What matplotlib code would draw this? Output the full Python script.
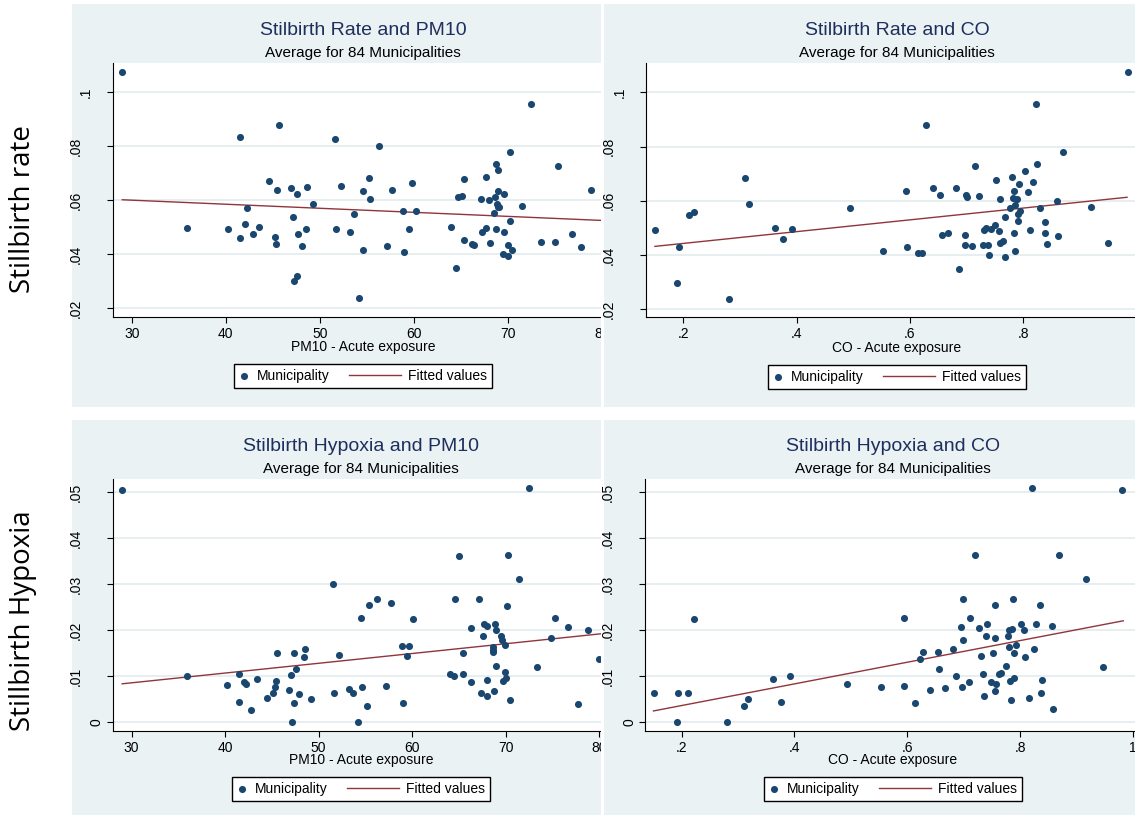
import numpy as np
import matplotlib
matplotlib.use('Agg')
import matplotlib.pyplot as plt
from matplotlib.lines import Line2D
from matplotlib.patches import Rectangle
from matplotlib.legend_handler import HandlerLine2D

############### DONNEES ###############

# Haut gauche : PM10 / taux de mortinatalite
tl_pm10 = [29.0, 41.5, 45.7, 51.6, 35.9, 40.2, 41.5, 42.1, 42.3, 42.9, 43.5, 44.6, 45.2, 45.4,
           45.5, 46.9, 47.2, 47.3, 47.6, 47.6, 47.7, 48.1, 48.5, 48.7, 49.3, 51.7, 52.3, 53.2,
           53.7, 54.2, 54.6, 54.6, 55.2, 55.4, 56.3, 57.2, 57.7, 58.9, 59.0, 59.5, 59.8, 60.2,
           64.0, 64.5, 64.7, 65.1, 65.4, 65.4, 66.2, 66.4, 67.2, 67.3, 67.7, 67.7, 68.0, 68.1,
           68.7, 68.6, 68.8, 69.0, 68.9, 69.0, 69.1, 68.5, 69.0, 69.6, 69.6, 69.5, 70.0, 70.0,
           70.2, 70.2, 70.5, 71.5, 72.5, 73.5, 75.0, 75.4, 76.8, 77.8, 78.9]
tl_rate = [.1074, .0833, .0879, .0828, .0499, .0493, .0459, .0514, .0573, .0474, .0500, .0672, .0464, .0440,
           .0640, .0646, .0540, .0300, .0321, .0625, .0477, .0431, .0495, .0648, .0588, .0495, .0652, .0483,
           .0551, .0240, .0636, .0415, .0684, .0606, .0801, .0432, .0637, .0562, .0410, .0495, .0663, .0559,
           .0502, .0351, .0614, .0617, .0678, .0454, .0437, .0434, .0605, .0484, .0688, .0496, .0600, .0442,
           .0735, .0611, .0493, .0711, .0585, .0575, .0577, .0553, .0635, .0623, .0483, .0401, .0435, .0394,
           .0525, .0779, .0415, .0579, .0956, .0447, .0447, .0727, .0474, .0426, .0637]

# Haut droite : CO / taux de mortinatalite
tr_co = [.150, .192, .189, .210, .219, .281, .309, .316, .362, .376, .392, .494, .553,
         .595, .593, .614, .621, .628, .641, .653, .656, .667, .682, .686, .697, .697, .699, .700,
         .710, .714, .721, .730, .734, .729, .737, .740, .743, .750, .752, .757, .758, .758, .764,
         .767, .767, .777, .780, .783, .781, .784, .785, .788, .786, .791, .790, .793, .795, .803,
         .808, .811, .817, .822, .825, .829, .838, .838, .842, .859, .862, .870, .920, .950, .984]
tr_rate = [.0494, .0430, .0298, .0549, .0559, .0238, .0684, .0589, .0499, .0459, .0497, .0574, .0414,
           .0430, .0635, .0407, .0409, .0879, .0646, .0623, .0475, .0481, .0647, .0348, .0473, .0437, .0623, .0614,
           .0433, .0727, .0616, .0494, .0501, .0438, .0438, .0399, .0497, .0512, .0676, .0489, .0605, .0445, .0452,
           .0539, .0393, .0575, .0686, .0636, .0609, .0483, .0414, .0605, .0583, .0551, .0525, .0662, .0561, .0709,
           .0632, .0494, .0670, .0956, .0735, .0572, .0522, .0483, .0442, .0598, .0472, .0779, .0577, .0445, .1075]

# Bas gauche : PM10 / hypoxie
bl_pm10 = [29.0, 35.9, 40.2, 41.5, 41.5, 42.0, 42.2, 42.8, 43.4, 44.5, 45.1, 45.3, 45.4, 45.6,
           46.8, 47.0, 47.2, 47.4, 47.4, 47.6, 47.9, 48.4, 48.6, 49.2, 51.5, 51.6, 52.2, 53.2,
           53.7, 54.2, 54.5, 54.6, 55.2, 55.4, 56.25, 57.2, 57.7, 58.9, 59.0, 59.5, 59.7, 60.1,
           64.0, 64.5, 64.6, 65.0, 65.4, 65.4, 66.25, 66.3, 67.2, 67.4, 67.7, 67.6, 68.0, 68.0,
           68.0, 68.6, 68.7, 68.7, 68.8, 68.9, 69.0, 69.0, 69.5, 69.6, 69.7, 69.9, 69.9, 70.0,
           70.1, 70.2, 70.5, 71.4, 72.5, 73.4, 74.9, 75.3, 76.7, 77.7, 78.8, 80.0]
bl_hyp = [.0504, .0100, .0080, .0104, .0043, .0087, .0083, .0027, .0093, .0052, .0063, .0075, .0090, .0151,
          .0070, .0103, .0000, .0151, .0041, .0116, .0061, .0141, .0158, .0049, .0301, .0063, .0145, .0072,
          .0062, .0000, .0225, .0075, .0034, .0255, .0267, .0078, .0259, .0166, .0041, .0143, .0166, .0224,
          .0104, .0100, .0267, .0361, .0151, .0104, .0086, .0204, .0267, .0064, .0213, .0187, .0209, .0092,
          .0057, .0152, .0157, .0162, .0067, .0214, .0200, .0122, .0188, .0179, .0089, .0167, .0108, .0096,
          .0253, .0364, .0047, .0311, .0509, .0120, .0182, .0227, .0206, .0040, .0201, .0137]

# Bas droite : CO / hypoxie
br_co = [.151, .191, .193, .212, .221, .281, .310, .317, .362, .376, .392, .493, .553,
         .595, .594, .614, .622, .628, .641, .654, .656, .667, .682, .686, .696, .697, .698, .699,
         .709, .712, .721, .728, .730, .734, .737, .739, .742, .749, .752, .755, .757, .756, .756,
         .762, .766, .776, .779, .780, .781, .782, .784, .785, .788, .789, .790, .793, .802, .807,
         .809, .816, .821, .824, .828, .836, .837, .839, .857, .859, .869, .917, .948, .981]
br_hyp = [.0064, .0000, .0062, .0063, .0224, .0000, .0035, .0049, .0093, .0044, .0100, .0083, .0076,
          .0079, .0225, .0042, .0138, .0152, .0070, .0152, .0116, .0073, .0159, .0100, .0207, .0076, .0178, .0267,
          .0086, .0227, .0362, .0205, .0143, .0105, .0057, .0188, .0213, .0088, .0151, .0067, .0082, .0182, .0255,
          .0104, .0107, .0122, .0187, .0162, .0201, .0090, .0048, .0203, .0267, .0096, .0151, .0167, .0214, .0199,
          .0142, .0052, .0509, .0159, .0212, .0254, .0064, .0092, .0209, .0028, .0364, .0311, .0120, .0504]

# Valeurs ajustees (extremites de la droite de regression)
fit_pm10 = [29.0, 80.3]
fit_rate_pm10 = [0.0602, 0.0525]
fit_hyp_pm10 = [0.0083, 0.0192]
fit_co = [0.150, 0.983]
fit_rate_co = [0.0432, 0.0613]
fit_hyp_co = [0.0024, 0.0220]

pm10_ticks = [30, 40, 50, 60, 70, 80]
co_ticks_top = [0.2, 0.4, 0.6, 0.8]
co_ticks = [0.2, 0.4, 0.6, 0.8, 1.0]
rate_ticks = [0.02, 0.04, 0.06, 0.08, 0.1]
hyp_ticks = [0, 0.01, 0.02, 0.03, 0.04, 0.05]

############### STYLE ###############

W, H = 1143, 817
NAVY = '#1a476f'
MAROON = '#90353b'
BG = '#eaf2f3'
GRID = '#e0eaec'
TITLE = '#1e2f5e'

plt.rcParams['font.family'] = ['Liberation Sans', 'DejaVu Sans']

fig = plt.figure(figsize=(W / 100, H / 100), dpi=100)
fig.patch.set_facecolor('white')


def box(l, t, r, b):
    # rectangle en pixels (origine en haut a gauche) -> coordonnees figure
    return [l / W, 1 - b / H, (r - l) / W, (b - t) / H]


def fmt(v):
    # format Stata : .02, .1, 0, 1
    if abs(v) < 1e-12:
        return '0'
    s = '%g' % v
    return s[1:] if s.startswith('0.') else s


class LongLine(HandlerLine2D):
    # ligne de legende plus longue que la case du symbole
    def create_artists(self, legend, orig_handle, xdescent, ydescent, width, height, fontsize, trans):
        extra = 3.0 * fontsize
        return super().create_artists(legend, orig_handle, xdescent + extra, ydescent,
                                      width + extra, height, fontsize, trans)


############### PANNEAUX ###############

panels = [
    dict(bg=(72, 4, 601, 407), ax=(112.7, 63.3, 613.3, 316.7), z=1,
         x=tl_pm10, y=tl_rate, fx=fit_pm10, fy=fit_rate_pm10,
         xlim=(27.98, 81.23), ylim=(0.01689, 0.11074), xt=pm10_ticks, yt=rate_ticks,
         title='Stilbirth Rate and PM10', xlabel='PM10 - Acute exposure',
         cx=363, ty=30.7, sy=52.7, xy=347, ly=376),
    dict(bg=(72, 420, 601, 815), ax=(112.7, 479, 609.3, 731), z=1,
         x=bl_pm10, y=bl_hyp, fx=fit_pm10, fy=fit_hyp_pm10,
         xlim=(27.99, 81.08), ylim=(-0.00196, 0.05283), xt=pm10_ticks, yt=hyp_ticks,
         title='Stilbirth Hypoxia and PM10', xlabel='PM10 - Acute exposure',
         cx=361, ty=446, sy=468.7, xy=760, ly=789),
    dict(bg=(604, 4, 1135, 407), ax=(646, 63.3, 1148, 317.3), z=4,
         x=tr_co, y=tr_rate, fx=fit_co, fy=fit_rate_co,
         xlim=(0.1342, 1.020), ylim=(0.01705, 0.11069), xt=co_ticks_top, yt=rate_ticks,
         title='Stilbirth Rate and CO', xlabel='CO - Acute exposure',
         cx=897, ty=30.7, sy=52.7, xy=348, ly=377),
    dict(bg=(604, 420, 1135, 815), ax=(645.3, 479, 1140.7, 731), z=4,
         x=br_co, y=br_hyp, fx=fit_co, fy=fit_hyp_co,
         xlim=(0.1355, 1.014), ylim=(-0.00196, 0.05283), xt=co_ticks, yt=hyp_ticks,
         title='Stilbirth Hypoxia and CO', xlabel='CO - Acute exposure',
         cx=893, ty=446, sy=468.7, xy=760, ly=789),
]

for p in panels:
    l, t, r, b = p['bg']
    fig.add_artist(Rectangle((l / W, 1 - b / H), (r - l) / W, (b - t) / H,
                             transform=fig.transFigure, facecolor=BG, edgecolor='none',
                             zorder=p['z'] - 0.5))

    ax = fig.add_axes(box(*p['ax']))
    ax.set_zorder(p['z'])
    ax.set_facecolor('white')

    sc = ax.scatter(p['x'], p['y'], s=26, color=NAVY, linewidths=0, zorder=3)
    ln, = ax.plot(p['fx'], p['fy'], color=MAROON, lw=1.0, zorder=2)

    ax.set_xlim(*p['xlim'])
    ax.set_ylim(*p['ylim'])
    ax.set_xticks(p['xt'])
    ax.set_xticklabels([fmt(v) for v in p['xt']])
    ax.set_yticks(p['yt'])

    ax.yaxis.grid(True, color=GRID, linewidth=1.1)
    ax.set_axisbelow(True)
    for s in ['top', 'right']:
        ax.spines[s].set_visible(False)
    for s in ['left', 'bottom']:
        ax.spines[s].set_color('black')
        ax.spines[s].set_linewidth(0.8)
    ax.tick_params(axis='both', direction='out', length=4.3, width=0.8, color='black',
                   labelsize=10, labelcolor='black')
    ax.tick_params(axis='x', pad=3.0)
    ax.tick_params(axis='y', labelleft=False)

    # etiquettes Y verticales, placees comme Stata (decalage selon la longueur)
    for v in p['yt']:
        lab = fmt(v)
        off = (5.4 + 10.6 * len(lab)) * 0.72
        ax.annotate(lab, xy=(0, v), xycoords=('axes fraction', 'data'),
                    xytext=(-off, 0), textcoords='offset points', rotation=90,
                    ha='center', va='center', fontsize=10, annotation_clip=False)

    # titres
    fig.text(p['cx'] / W, 1 - p['ty'] / H, p['title'], ha='center', va='center',
             fontsize=14, color=TITLE, zorder=20)
    fig.text(p['cx'] / W, 1 - p['sy'] / H, 'Average for 84 Municipalities', ha='center',
             va='center', fontsize=11, color='black', zorder=20)
    fig.text(p['cx'] / W, 1 - p['xy'] / H, p['xlabel'], ha='center', va='center',
             fontsize=10, color='black', zorder=20)

    # legende
    leg = ax.legend([sc, ln], ['Municipality', 'Fitted values'], loc='center',
                    bbox_to_anchor=(p['cx'] / W, 1 - p['ly'] / H), bbox_transform=fig.transFigure,
                    ncol=2, fontsize=10, frameon=True, fancybox=False, edgecolor='black',
                    framealpha=1, borderpad=0.35, handlelength=0.75, handletextpad=0.55,
                    columnspacing=4.4, borderaxespad=0, scatterpoints=1,
                    handler_map={Line2D: LongLine()})
    leg.get_frame().set_linewidth(1.0)

# bandes blanches (decoupage des graphiques)
fig.add_artist(Rectangle((601 / W, 0), 3 / W, 1, transform=fig.transFigure,
                         facecolor='white', edgecolor='none', zorder=2))
fig.add_artist(Rectangle((1135 / W, 0), 8 / W, 1, transform=fig.transFigure,
                         facecolor='white', edgecolor='none', zorder=10))

# titres des lignes
fig.text(22.6 / W, 1 - 209 / H, 'Stillbirth rate', rotation=90, ha='center', va='center',
         fontsize=20, family=['Open Sans', 'DejaVu Sans'], zorder=20)
fig.text(23.3 / W, 1 - 621 / H, 'Stillbirth Hypoxia', rotation=90, ha='center', va='center',
         fontsize=20, family=['Open Sans', 'DejaVu Sans'], zorder=20)

fig.savefig('out.png', dpi=100)
